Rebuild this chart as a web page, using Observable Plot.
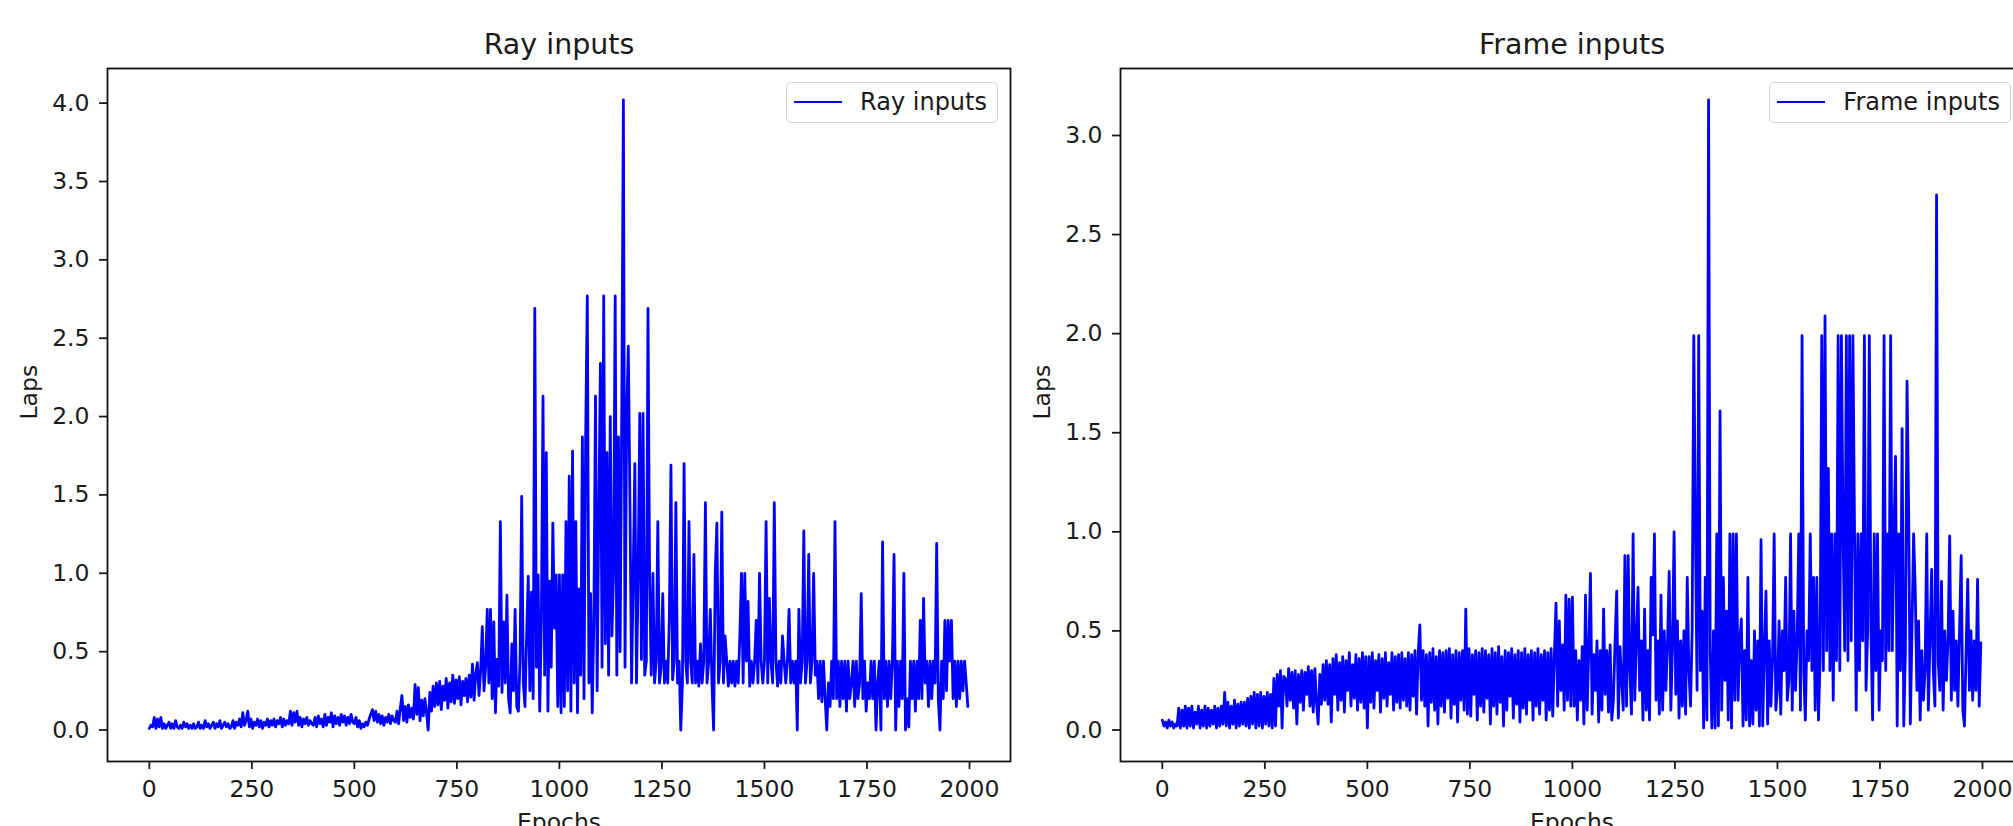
<!DOCTYPE html>
<html>
<head>
<meta charset="utf-8">
<script src="https://cdn.jsdelivr.net/npm/d3@7"></script>
<script src="https://cdn.jsdelivr.net/npm/@observablehq/plot@0.6"></script>
<style>
html, body { margin: 0; padding: 0; overflow: hidden; background: #fff; }
body { width: 2013px; height: 826px; position: relative; font-family: "DejaVu Sans", sans-serif; }
.panel { position: absolute; top: 0; width: 1013px; height: 826px; }
.legend { position: absolute; top: 81.5px; right: 15px; height: 41.6px; box-sizing: border-box;
  border: 1.6px solid #d4d4d4; border-radius: 5px; background: rgba(255,255,255,0.8);
  display: flex; align-items: center; padding: 0 10px 0 7.4px;
  font: 24px "DejaVu Sans", sans-serif; color: #1a1a1a; white-space: nowrap; }
.legend .swatch { width: 48px; height: 2.4px; background: blue; margin-right: 18px; flex: none; }
</style>
</head>
<body>
<div id="left" class="panel" style="left:0px"></div>
<div id="right" class="panel" style="left:1013px"></div>
<script>
// Epochs sampled every 4 (0 .. 1996)
const epochs = d3.range(0, 2000, 4);

// "Ray inputs" laps per epoch
const rayInputs = [
  0.01,0.03,0.02,0.08,0.01,0.07,0.02,0.08,0.01,0.04,0.01,0.03,0.05,0.01,0.04,0.01,0.06,0.02,0.01,0.03,0.01,0.05,0.02,0.04,0.01,
  0.03,0.01,0.04,0.01,0.02,0.05,0.01,0.03,0.01,0.06,0.02,0.04,0.01,0.03,0.05,0.01,0.04,0.02,0.06,0.01,0.03,0.05,0.02,0.04,0.01,
  0.02,0.06,0.01,0.05,0.03,0.07,0.02,0.11,0.03,0.06,0.12,0.02,0.07,0.01,0.05,0.03,0.07,0.02,0.06,0.01,0.05,0.03,0.07,0.02,0.06,
  0.03,0.07,0.02,0.06,0.04,0.08,0.02,0.07,0.03,0.06,0.04,0.12,0.03,0.11,0.05,0.12,0.03,0.08,0.02,0.07,0.04,0.08,0.03,0.06,0.04,
  0.03,0.08,0.02,0.09,0.04,0.07,0.02,0.10,0.03,0.08,0.05,0.11,0.02,0.09,0.04,0.08,0.03,0.10,0.05,0.09,0.03,0.08,0.04,0.10,0.05,
  0.04,0.08,0.02,0.06,0.01,0.04,0.02,0.05,0.03,0.07,0.10,0.13,0.06,0.12,0.05,0.10,0.04,0.09,0.03,0.08,0.05,0.10,0.04,0.09,0.06,
  0.05,0.12,0.04,0.14,0.22,0.06,0.15,0.05,0.16,0.08,0.14,0.07,0.29,0.10,0.27,0.06,0.19,0.09,0.20,0.11,0.00,0.24,0.12,0.28,0.15,
  0.30,0.16,0.31,0.13,0.28,0.19,0.33,0.14,0.30,0.18,0.35,0.17,0.32,0.20,0.34,0.16,0.31,0.22,0.33,0.18,0.35,0.21,0.42,0.19,0.36,
  0.43,0.22,0.38,0.66,0.25,0.40,0.77,0.30,0.77,0.20,0.69,0.11,0.45,0.28,1.33,0.24,0.69,0.30,0.86,0.20,0.11,0.55,0.25,0.77,0.15,
  0.12,0.45,1.49,0.30,0.15,0.60,0.98,0.25,0.88,0.20,2.69,0.40,0.99,0.12,0.70,2.13,0.35,1.77,0.12,0.95,0.40,1.32,0.65,0.99,0.15,
  0.99,0.11,0.99,0.15,1.33,0.25,1.62,0.12,1.78,0.30,1.33,0.11,0.90,0.35,1.87,0.20,1.87,2.77,0.30,0.87,0.11,0.70,2.13,0.25,1.38,
  2.34,0.40,2.77,0.55,1.77,0.35,2.00,0.60,0.99,2.77,0.35,1.87,0.50,2.00,4.02,0.40,2.00,2.45,1.45,0.30,1.00,1.70,0.30,0.99,2.02,
  0.45,2.02,0.35,0.44,2.69,0.93,0.35,1.00,0.30,0.44,1.33,0.30,0.40,0.87,0.30,0.44,0.30,0.70,1.69,0.32,0.44,1.45,0.30,0.44,0.00,
  0.30,1.70,0.44,0.30,1.33,0.44,0.30,1.12,0.30,0.44,0.28,0.55,0.30,0.44,1.45,0.30,0.44,0.77,0.30,0.00,1.00,1.32,0.30,0.44,1.39,
  0.30,0.60,0.44,0.28,0.44,0.30,0.44,0.28,0.44,0.30,0.60,1.00,0.30,1.00,0.44,0.82,0.28,0.44,0.30,0.44,0.70,0.30,1.00,0.44,0.30,
  0.44,1.33,0.30,0.84,0.44,0.30,1.45,0.44,0.28,0.44,0.30,0.60,0.44,0.30,0.44,0.77,0.30,0.44,0.30,0.44,0.00,0.77,0.30,0.44,1.27,
  0.30,0.44,1.12,0.30,0.44,1.00,0.35,0.44,0.20,0.44,0.18,0.44,0.20,0.00,0.30,0.15,0.44,0.20,1.33,0.20,0.44,0.15,0.44,0.20,0.44,
  0.12,0.44,0.20,0.30,0.44,0.15,0.44,0.20,0.30,0.87,0.20,0.44,0.12,0.30,0.20,0.44,0.20,0.44,0.00,0.30,0.44,0.00,1.20,0.20,0.44,
  0.15,0.44,0.20,0.44,1.12,0.00,0.44,0.15,0.44,0.20,1.00,0.00,0.20,0.02,0.44,0.20,0.44,0.12,0.44,0.20,0.70,0.20,0.84,0.30,0.44,
  0.15,0.44,0.20,0.44,0.30,1.19,0.20,0.00,0.44,0.20,0.70,0.25,0.70,0.44,0.70,0.20,0.44,0.15,0.44,0.20,0.44,0.25,0.44,0.30,0.15
];

// "Frame inputs" laps per epoch
const frameInputs = [
  0.05,0.02,0.04,0.01,0.05,0.02,0.04,0.01,0.03,0.02,0.11,0.01,0.10,0.02,0.12,0.01,0.11,0.02,0.12,0.01,0.09,0.03,0.12,0.01,0.10,
  0.02,0.12,0.01,0.11,0.02,0.10,0.03,0.12,0.01,0.11,0.02,0.12,0.03,0.19,0.02,0.14,0.01,0.12,0.03,0.15,0.01,0.13,0.02,0.14,0.03,
  0.14,0.02,0.16,0.01,0.17,0.03,0.19,0.01,0.18,0.02,0.19,0.01,0.17,0.03,0.19,0.02,0.18,0.01,0.26,0.02,0.28,0.12,0.30,0.01,0.27,
  0.26,0.12,0.31,0.15,0.29,0.11,0.30,0.03,0.28,0.14,0.30,0.10,0.29,0.18,0.32,0.12,0.30,0.09,0.31,0.14,0.03,0.28,0.13,0.33,0.15,
  0.35,0.13,0.33,0.04,0.36,0.18,0.38,0.10,0.34,0.15,0.37,0.09,0.35,0.20,0.39,0.12,0.33,0.16,0.38,0.10,0.36,0.14,0.39,0.11,0.37,
  0.01,0.37,0.14,0.39,0.11,0.35,0.20,0.38,0.09,0.36,0.16,0.39,0.12,0.34,0.18,0.39,0.10,0.37,0.14,0.38,0.11,0.39,0.15,0.36,0.12,
  0.39,0.10,0.38,0.17,0.40,0.08,0.39,0.53,0.15,0.40,0.12,0.38,0.02,0.39,0.14,0.41,0.10,0.37,0.03,0.40,0.12,0.39,0.09,0.40,0.16,
  0.41,0.06,0.38,0.13,0.40,0.04,0.39,0.15,0.40,0.10,0.61,0.08,0.41,0.07,0.38,0.18,0.40,0.05,0.39,0.12,0.41,0.09,0.40,0.16,0.38,
  0.03,0.41,0.12,0.39,0.08,0.42,0.14,0.37,0.02,0.40,0.10,0.39,0.17,0.41,0.06,0.38,0.13,0.40,0.04,0.39,0.11,0.41,0.08,0.38,0.15,
  0.40,0.05,0.39,0.12,0.41,0.08,0.38,0.15,0.40,0.05,0.39,0.10,0.41,0.07,0.38,0.64,0.12,0.55,0.20,0.43,0.10,0.68,0.15,0.66,0.12,
  0.67,0.12,0.40,0.05,0.35,0.15,0.42,0.03,0.68,0.10,0.42,0.79,0.08,0.38,0.20,0.45,0.04,0.40,0.10,0.61,0.18,0.40,0.09,0.43,0.05,
  0.15,0.45,0.70,0.06,0.42,0.25,0.10,0.88,0.12,0.88,0.30,0.08,0.99,0.15,0.45,0.72,0.20,0.45,0.05,0.61,0.10,0.40,0.05,0.77,0.48,
  0.99,0.15,0.45,0.08,0.68,0.10,0.50,0.20,0.45,0.80,0.10,0.42,1.00,0.18,0.55,0.06,0.45,0.12,0.50,0.08,0.77,0.30,0.12,0.50,1.99,
  0.99,0.20,1.99,0.30,0.60,0.01,0.77,0.05,3.18,0.40,0.01,0.50,0.01,0.99,0.02,1.61,0.10,0.77,0.25,0.60,0.05,0.99,0.01,0.99,0.15,
  0.99,0.15,0.45,0.56,0.02,0.40,0.05,0.77,0.02,0.35,0.03,0.50,0.10,0.45,0.02,0.96,0.02,0.40,0.70,0.03,0.45,0.12,0.35,0.99,0.10,
  0.20,0.55,0.08,0.50,0.30,0.77,0.15,0.25,0.99,0.10,0.60,0.20,0.45,0.99,0.10,1.99,0.30,0.05,0.50,0.35,0.99,0.30,0.77,0.10,0.77,
  0.05,0.35,1.99,0.30,2.09,0.40,1.32,0.30,0.99,0.15,0.99,0.35,1.99,0.30,1.99,0.99,0.40,1.99,0.35,1.99,0.45,1.99,0.99,0.10,0.99,
  0.30,0.99,0.45,1.99,0.20,0.50,1.99,0.50,0.05,0.99,0.30,0.99,0.10,0.50,0.35,1.99,0.30,0.99,0.40,1.99,0.40,0.99,1.38,0.02,0.99,
  0.30,1.52,0.02,0.40,1.76,1.10,0.03,0.50,0.99,0.71,0.20,0.55,0.05,0.40,0.15,0.30,0.99,0.10,0.45,0.81,0.30,0.12,2.70,0.35,0.20,
  0.75,0.10,0.50,0.25,0.45,0.98,0.15,0.60,0.20,0.45,0.12,0.50,0.88,0.10,0.02,0.40,0.76,0.20,0.50,0.15,0.45,0.20,0.76,0.12,0.44
];

const xTicks = [0, 250, 500, 750, 1000, 1250, 1500, 1750, 2000];
const rayYTicks = [0, 0.5, 1, 1.5, 2, 2.5, 3, 3.5, 4];
const frameYTicks = [0, 0.5, 1, 1.5, 2, 2.5, 3];

function drawPanel(el, { title, label, series, yDomain, yTicks }) {
  const data = epochs.map((e, i) => ({ epoch: e, laps: series[i] }));
  const chart = Plot.plot({
    width: 1013,
    height: 826,
    marginLeft: 107,
    marginRight: 3,
    marginTop: 68,
    marginBottom: 65,
    style: { background: "white", fontFamily: "DejaVu Sans", fontSize: "23.5px", color: "#1a1a1a", overflow: "visible" },
    x: { domain: [-102, 2100] },
    y: { domain: yDomain },
    marks: [
      Plot.lineY(data, { x: "epoch", y: "laps", stroke: "blue", strokeWidth: 2.8 }),
      Plot.frame({ stroke: "#111", strokeWidth: 1.8 }),
      Plot.axisX({ ticks: xTicks, tickSize: 8, tickPadding: 10.5, strokeWidth: 1.8, tickFormat: d => String(d), label: null, fontSize: 23.5 }),
      Plot.axisY({ ticks: yTicks, tickSize: 8, tickPadding: 10, strokeWidth: 1.8, tickFormat: d3.format(".1f"), label: null, fontSize: 23.5 }),
      Plot.text([title], { frameAnchor: "top", lineAnchor: "bottom", dy: -15, fontSize: 28.5, fill: "#1a1a1a" }),
      Plot.text(["Laps"], { frameAnchor: "left", rotate: -90, dx: -78, dy: 4.5, fontSize: 23.5, fill: "#1a1a1a" }),
      Plot.text(["Epochs"], { frameAnchor: "bottom", lineAnchor: "bottom", dy: 68, fontSize: 23.5, fill: "#1a1a1a" })
    ]
  });
  el.append(chart);
  const lg = document.createElement("div");
  lg.className = "legend";
  const sw = document.createElement("span");
  sw.className = "swatch";
  const tx = document.createElement("span");
  tx.textContent = label;
  lg.append(sw, tx);
  el.append(lg);
}

drawPanel(document.getElementById("left"), {
  title: "Ray inputs", label: "Ray inputs", series: rayInputs,
  yDomain: [-0.201, 4.221], yTicks: rayYTicks
});
drawPanel(document.getElementById("right"), {
  title: "Frame inputs", label: "Frame inputs", series: frameInputs,
  yDomain: [-0.159, 3.338], yTicks: frameYTicks
});
</script>
</body>
</html>
